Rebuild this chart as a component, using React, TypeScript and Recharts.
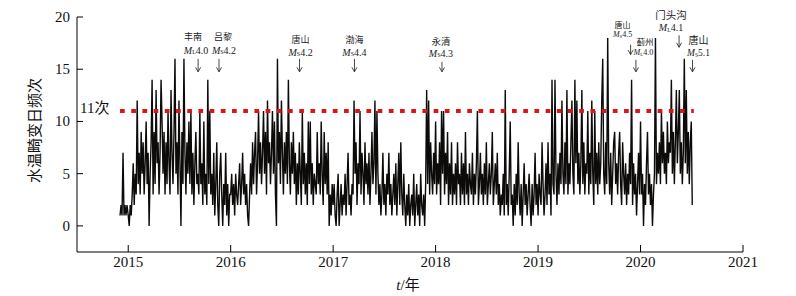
import React from 'react';
import { LineChart, Line, XAxis, YAxis, ReferenceDot } from 'recharts';

// ---------- data ----------
const xTicks = [2015, 2016, 2017, 2018, 2019, 2020, 2021];
const yTicks = [0, 5, 10, 15, 20];

// start of each yearly block and its values (one sample every 1/103 year)
const v2014 = [1, 2, 1, 7, 1, 2, 1, 2];
const v2015 = [
  1, 0, 2, 1, 3, 6, 2, 5, 3, 12,
  4, 7, 3, 9, 5, 8, 3, 6, 10, 4,
  7, 0, 5, 8, 14, 3, 9, 4, 13, 6,
  8, 3, 7, 14, 10, 5, 9, 3, 8, 4,
  11, 6, 3, 13, 7, 4, 9, 16, 5, 8,
  3, 12, 6, 0, 9, 4, 16, 7, 3, 8,
  5, 10, 4, 11, 3, 7, 2, 6, 9, 4,
  5, 3, 11, 4, 6, 2, 10, 3, 5, 2,
  14, 4, 11, 3, 5, 2, 7, 1, 4, 8,
  2, 0, 5, 7, 3, 0, 4, 2, 7, 1,
  4, 0, 3,
];
const v2016 = [
  3, 5, 2, 4, 1, 5, 3, 2, 4, 6,
  2, 4, 7, 3, 5, 2, 4, 1, 0, 3,
  6, 3, 8, 4, 7, 9, 3, 6, 11, 5,
  8, 4, 7, 11, 5, 9, 3, 12, 6, 8,
  4, 7, 11, 5, 10, 3, 0, 16, 6, 9,
  4, 12, 7, 3, 8, 5, 9, 4, 14, 6,
  3, 8, 5, 9, 4, 7, 2, 6, 3, 8,
  5, 2, 11, 4, 7, 3, 6, 2, 10, 4,
  10, 3, 6, 2, 5, 4, 3, 9, 4, 6,
  3, 10, 5, 2, 9, 4, 7, 3, 8, 0,
  3, 1, 4,
];
const v2017 = [
  2, 4, 1, 0, 3, 5, 0, 2, 4, 1,
  3, 2, 5, 1, 4, 7, 2, 3, 1, 4,
  3, 12, 5, 8, 2, 6, 4, 11, 3, 7,
  5, 2, 8, 4, 6, 3, 7, 2, 5, 9,
  4, 6, 12, 3, 11, 5, 2, 4, 1, 3,
  7, 2, 4, 1, 5, 3, 7, 2, 4, 1,
  3, 5, 2, 6, 1, 4, 7, 2, 8, 3,
  1, 5, 2, 0, 3, 1, 4, 0, 2, 3,
  1, 5, 0, 2, 4, 1, 3, 0, 5, 2,
  1, 3, 0, 4, 13, 4, 12, 3, 8, 5,
  3, 7, 4,
];
const v2018 = [
  10, 3, 6, 4, 8, 2, 11, 5, 11, 3,
  7, 4, 9, 2, 6, 3, 8, 2, 5, 3,
  6, 2, 8, 4, 5, 2, 7, 3, 6, 2,
  9, 3, 5, 2, 6, 4, 3, 7, 2, 5,
  3, 6, 11, 2, 4, 7, 3, 5, 2, 6,
  3, 8, 2, 4, 6, 3, 5, 9, 2, 4,
  6, 3, 7, 2, 4, 1, 3, 2, 5, 1,
  13, 2, 4, 1, 5, 10, 2, 3, 0, 4,
  1, 5, 2, 8, 3, 1, 4, 0, 3, 6,
  2, 4, 1, 3, 5, 2, 0, 4, 1, 3,
  7, 2, 4,
];
const v2019 = [
  1, 5, 3, 2, 8, 4, 1, 3, 6, 2,
  8, 3, 5, 1, 14, 4, 3, 14, 5, 2,
  6, 3, 7, 4, 12, 5, 3, 8, 4, 13,
  3, 6, 4, 8, 12, 5, 3, 14, 6, 12,
  4, 7, 3, 6, 13, 4, 8, 3, 6, 5,
  11, 3, 7, 4, 12, 5, 2, 11, 4, 7,
  3, 8, 4, 6, 12, 16, 5, 3, 8, 4,
  18, 6, 3, 7, 2, 5, 8, 9, 4, 6,
  3, 7, 9, 4, 2, 8, 5, 3, 6, 2,
  5, 3, 7, 4, 14, 2, 6, 3, 5, 1,
  4, 7, 3,
];
const v2020 = [
  10, 3, 5, 0, 4, 2, 6, 9, 3, 5,
  2, 4, 0, 3, 5, 18, 4, 7, 5, 8,
  4, 11, 6, 9, 5, 7, 4, 10, 6, 8,
  7, 14, 5, 9, 4, 8, 13, 6, 9, 13,
  5, 8, 4, 7, 16, 6, 13, 5, 9, 4,
  8, 10, 2,
];
const blockStarts = [2014.92, 2015, 2016, 2017, 2018, 2019, 2020];
const blocks = [v2014, v2015, v2016, v2017, v2018, v2019, v2020];
const SAMPLES_PER_YEAR = 103;

const thresholdValue = 11;
const thresholdLabel = '11次';
const thresholdSpan = [2014.92, 2020.52];

// earthquake events
const eventDates = [2015.682, 2015.886, 2016.672, 2017.208, 2018.062, 2019.903, 2019.955, 2020.376, 2020.507];
const eventNames = ['丰南', '吕黎', '唐山', '渤海', '永清', '唐山', '蓟州', '门头沟', '唐山'];
const eventMagTypes = ['L', 'S', 'S', 'S', 'S', 'S', 'L', 'L', 'S'];
const eventMags = ['4.0', '4.2', '4.2', '4.4', '4.3', '4.5', '4.0', '4.1', '5.1'];
const eventTipValues = [14.75, 14.75, 14.75, 14.75, 14.75, 16.4, 14.75, 17.1, 14.75];

// annotation layout (pixels): arrow length, name dx/dy, mag dx/dy, name size, mag size
const annoLayout = [
  [13, -5, -35, -2, -22, 9, 10],
  [13, 4, -35, 5, -22, 9, 10],
  [13, 1, -32, 1, -20, 9, 10],
  [13, 0, -32, 0, -20, 9, 10],
  [10, -1, -30, -1, -19, 9.5, 10],
  [10, -8, -29, -8, -21, 8, 8],
  [12, 9, -29.5, 7.5, -20, 8.5, 8],
  [12, -8, -31.5, -8, -20, 10.5, 10],
  [12, 6, -31, 6, -19, 10, 9.5],
];

// ---------- build tables ----------
const series: { t: number; v: number }[] = [];
blocks.forEach((arr, b) => {
  arr.forEach((v, i) => series.push({ t: blockStarts[b] + i / SAMPLES_PER_YEAR, v }));
});
const thresholdData = thresholdSpan.map((t) => ({ t, v: thresholdValue }));

const SERIF = "'Liberation Serif', 'Times New Roman', 'Noto Sans CJK SC', serif";

const XTick = (props: any) => {
  const { x, y, payload } = props;
  return (
    <g>
      <line x1={x} y1={y} x2={x} y2={y - 7} stroke="#000" strokeWidth={1} />
      <text x={x} y={y + 15} textAnchor="middle" fontSize={15} fontFamily={SERIF} fill="#111">
        {payload.value}
      </text>
    </g>
  );
};

const YTick = (props: any) => {
  const { x, y, payload } = props;
  return (
    <g>
      <line x1={x} y1={y} x2={x + 6} y2={y} stroke="#000" strokeWidth={1} />
      <text x={x - 7} y={y + 5} textAnchor="end" fontSize={15} fontFamily={SERIF} fill="#111">
        {payload.value}
      </text>
    </g>
  );
};

const yLabel = (props: any) => {
  const vb = props.viewBox;
  const cx = vb.x + 34.5;
  const cy = vb.y + vb.height / 2 - 4;
  return (
    <text
      x={cx}
      y={cy}
      transform={`rotate(-90 ${cx} ${cy})`}
      textAnchor="middle"
      dominantBaseline="central"
      fontSize={15}
      fontFamily={SERIF}
      fill="#111"
    >
      水温畸变日频次
    </text>
  );
};

const xLabel = (props: any) => {
  const vb = props.viewBox;
  const cx = vb.x + vb.width / 2 - 2;
  return (
    <text x={cx} y={vb.y + 38} textAnchor="middle" fontSize={15} fontFamily={SERIF} fill="#111">
      <tspan fontStyle="italic">t</tspan>/年
    </text>
  );
};

const thrLabel = (props: any) => {
  const vb = props.viewBox;
  const cx = vb.x + vb.width / 2;
  const cy = vb.y + vb.height / 2;
  return (
    <text x={cx + 3} y={cy + 2} fontSize={15} fontFamily={SERIF} fill="#111">
      {thresholdLabel}
    </text>
  );
};

const makeAnno = (k: number) => (props: any) => {
  const vb = props.viewBox;
  const cx = vb.x + vb.width / 2;
  const cy = vb.y + vb.height / 2;
  const [len, ndx, ndy, mdx, mdy, ns, ms] = annoLayout[k];
  return (
    <g>
      <line x1={cx} y1={cy - len} x2={cx} y2={cy} stroke="#333" strokeWidth={0.9} />
      <polyline
        points={`${cx - 2.5},${cy - 4.5} ${cx},${cy} ${cx + 2.5},${cy - 4.5}`}
        fill="none"
        stroke="#333"
        strokeWidth={0.9}
      />
      <text
        x={cx + ndx}
        y={cy + ndy}
        textAnchor="middle"
        dominantBaseline="central"
        fontSize={ns}
        fontFamily={SERIF}
        fill="#222"
      >
        {eventNames[k]}
      </text>
      <text
        x={cx + mdx}
        y={cy + mdy}
        textAnchor="middle"
        dominantBaseline="central"
        fontSize={ms}
        fontFamily={SERIF}
        fill="#222"
      >
        <tspan fontStyle="italic">M</tspan>
        <tspan fontSize={ms * 0.6} dy={ms * 0.25}>
          {eventMagTypes[k]}
        </tspan>
        <tspan dy={-ms * 0.25}>{eventMags[k]}</tspan>
      </text>
    </g>
  );
};

export default function App() {
  return (
    <div style={{ position: 'absolute', left: 0, top: 0, width: 796, height: 296, background: '#fff' }}>
      <LineChart width={796} height={296} data={series} margin={{ top: 17, right: 53, bottom: 0, left: 0 }}>
        <XAxis
          type="number"
          dataKey="t"
          domain={[2014.5, 2021]}
          ticks={xTicks}
          interval={0}
          allowDataOverflow
          height={44}
          tickSize={0}
          tickMargin={0}
          tickLine={false}
          tick={<XTick />}
          axisLine={{ stroke: '#000', strokeWidth: 1 }}
          label={xLabel}
        />
        <YAxis
          type="number"
          domain={[-2.5, 20]}
          ticks={yTicks}
          interval={0}
          allowDataOverflow
          width={77}
          tickSize={0}
          tickMargin={0}
          tickLine={false}
          tick={<YTick />}
          axisLine={{ stroke: '#000', strokeWidth: 1 }}
          label={yLabel}
        />
        <Line
          type="linear"
          dataKey="v"
          stroke="#0d0b0a"
          strokeWidth={1.4}
          strokeLinejoin="miter"
          dot={false}
          activeDot={false}
          isAnimationActive={false}
        />
        <Line
          data={thresholdData}
          type="linear"
          dataKey="v"
          stroke="#d7151b"
          strokeWidth={4}
          strokeDasharray="4.7 6.5"
          dot={false}
          activeDot={false}
          isAnimationActive={false}
        />
        <ReferenceDot x={2014.5} y={thresholdValue} r={1} fill="none" stroke="none" ifOverflow="visible" label={thrLabel} />
        {eventDates.map((d, k) => (
          <ReferenceDot
            key={k}
            x={d}
            y={eventTipValues[k]}
            r={1}
            fill="none"
            stroke="none"
            ifOverflow="visible"
            label={makeAnno(k)}
          />
        ))}
      </LineChart>
    </div>
  );
}
